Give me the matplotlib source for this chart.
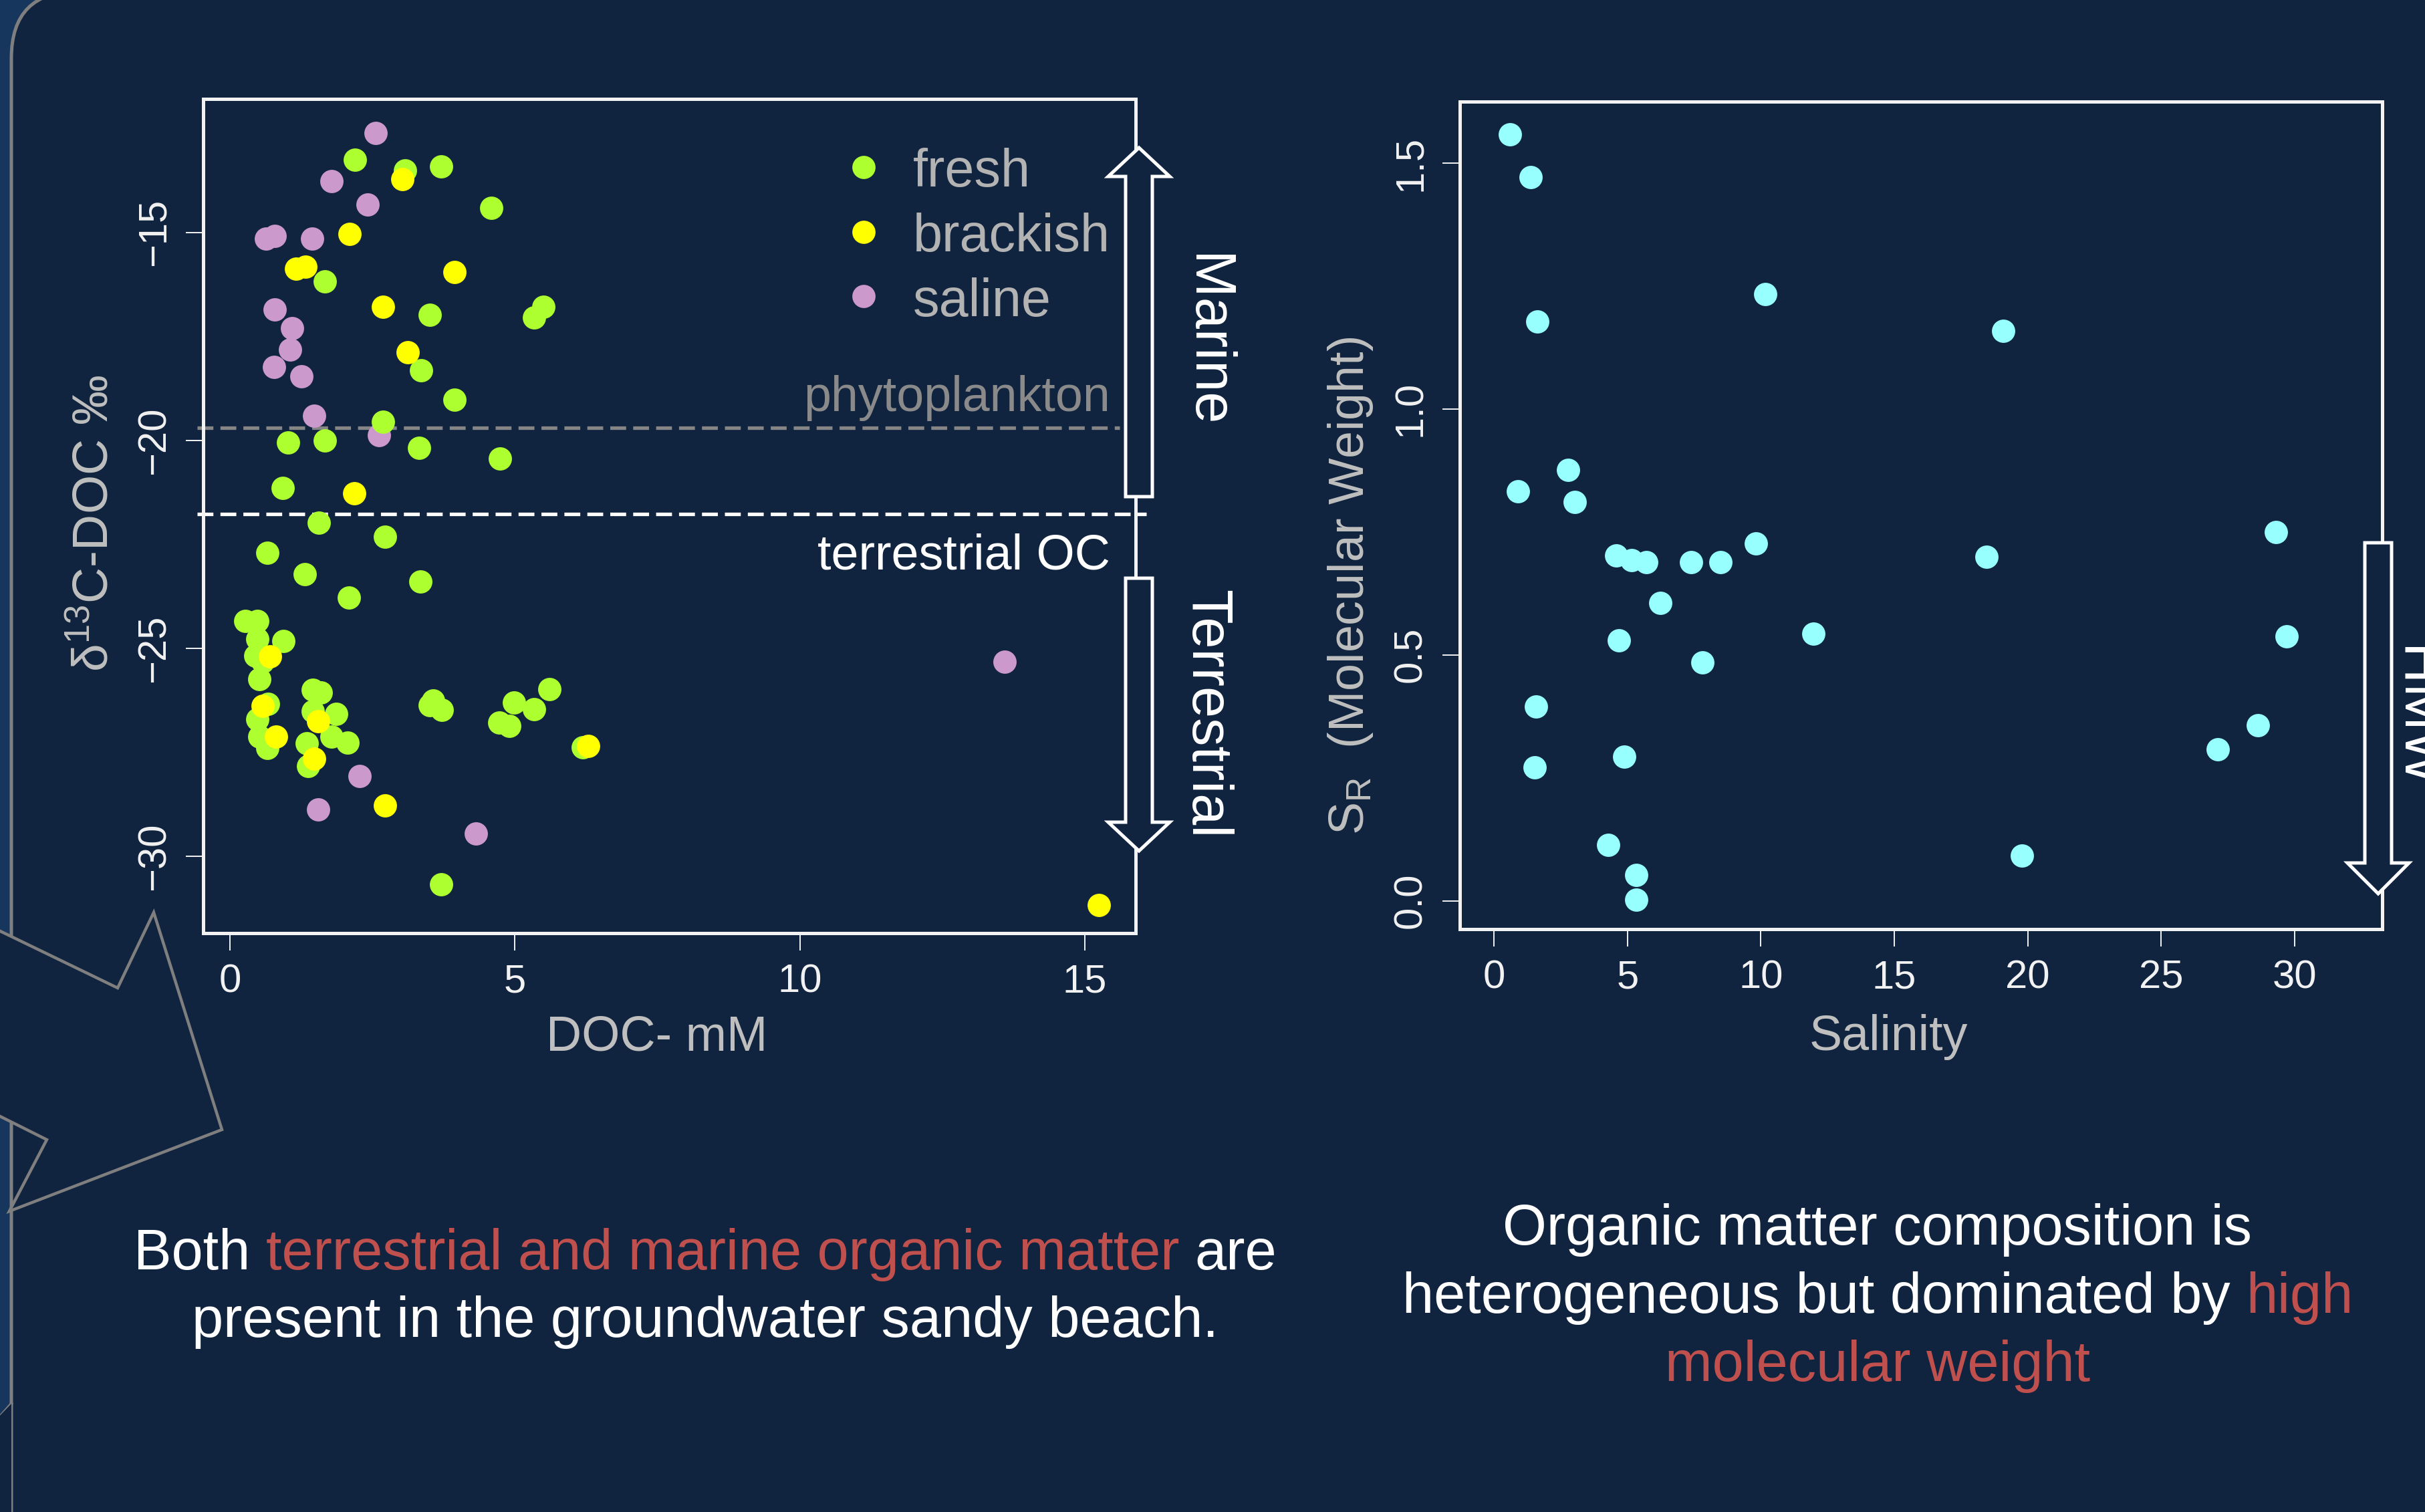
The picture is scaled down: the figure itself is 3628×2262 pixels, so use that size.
import matplotlib
matplotlib.use('Agg')
import matplotlib.pyplot as plt
import matplotlib.transforms as mtransforms
from matplotlib.patches import Polygon, FancyBboxPatch

plt.rcParams['font.family'] = ['Liberation Sans', 'DejaVu Sans']
plt.rcParams['mathtext.fontset'] = 'custom'
plt.rcParams['mathtext.rm'] = 'Liberation Sans'
plt.rcParams['mathtext.it'] = 'Liberation Sans:italic'
plt.rcParams['mathtext.bf'] = 'Liberation Sans:bold'

# ---- left panel: d13C-DOC vs DOC ----
fresh_doc = [2.19, 3.07, 3.70, 4.58, 1.67, 5.50, 5.34, 3.50, 3.35, 3.94, 2.68, 1.02, 1.67,
             3.32, 4.74, 0.93, 1.56, 2.72, 0.66, 1.31, 3.34, 2.09, 0.27, 0.48, 0.94, 0.48,
             0.44, 0.57, 0.51, 0.67, 0.48, 0.51, 0.65, 1.45, 1.59, 1.45, 1.86, 1.35, 1.78,
             2.06, 1.37, 3.50, 3.72, 3.57, 4.98, 5.34, 5.61, 4.72, 4.90, 6.19, 3.70]
fresh_d13c = [-13.26, -13.51, -13.41, -14.41, -16.18, -16.79, -17.05, -16.98, -18.31, -19.02,
              -19.56, -20.05, -20.00, -20.18, -20.44, -21.15, -21.98, -22.32, -22.71, -23.22,
              -23.40, -23.78, -24.34, -24.35, -24.83, -24.77, -25.18, -25.32, -25.74, -26.34,
              -26.71, -27.12, -27.40, -26.00, -26.06, -26.52, -26.57, -27.28, -27.12, -27.27,
              -27.83, -26.37, -26.48, -26.25, -26.31, -26.46, -25.99, -26.78, -26.86, -27.38,
              -30.67]
brackish_doc = [3.03, 2.10, 1.16, 1.32, 3.94, 2.68, 3.12, 2.18, 0.70, 0.57, 0.81, 1.55,
                1.48, 2.72, 6.29, 15.25]
brackish_d13c = [-13.72, -15.03, -15.87, -15.82, -15.95, -16.79, -17.88, -21.28, -25.20,
                 -26.38, -27.12, -26.75, -27.65, -28.78, -27.35, -31.18]
saline_doc = [2.56, 1.78, 2.41, 0.63, 0.78, 1.44, 0.78, 1.09, 1.06, 0.77, 1.25, 1.48, 2.61,
              13.59, 2.27, 1.55, 4.31]
saline_d13c = [-12.61, -13.77, -14.33, -15.15, -15.08, -15.15, -16.85, -17.31, -17.82,
               -18.23, -18.46, -19.41, -19.87, -25.32, -28.07, -28.87, -29.46]
phyto_d13c = -19.7
terr_d13c = -21.77
left_xticks = [0, 5, 10, 15]
left_yticks = [-30, -25, -20, -15]

# ---- right panel: SR vs salinity ----
salinity = [0.61, 1.38, 1.63, 10.17, 19.09, 2.78, 0.91, 3.03, 29.31, 4.57, 5.15, 5.70, 7.38,
            8.48, 9.81, 18.46, 6.23, 4.68, 11.96, 29.70, 7.82, 1.57, 1.52, 4.88, 28.62,
            27.11, 4.27, 5.34, 5.32, 19.78]
sr = [1.559, 1.472, 1.178, 1.234, 1.159, 0.876, 0.833, 0.811, 0.749, 0.702, 0.693, 0.689,
      0.689, 0.689, 0.727, 0.700, 0.605, 0.530, 0.543, 0.538, 0.484, 0.395, 0.271, 0.293,
      0.357, 0.308, 0.114, 0.053, 0.002, 0.092]
right_xticks = [0, 5, 10, 15, 20, 25, 30]
right_yticks = [0.0, 0.5, 1.0, 1.5]

W, H = 3628, 2262
BG = '#11243F'
OUTER = '#17365E'
EDGE = '#7F7F7F'
RED = '#C0504D'

fig = plt.figure(figsize=(W / 100, H / 100), dpi=100, facecolor=OUTER)
# pixel coordinates, y downwards
px = mtransforms.Affine2D().scale(1 / W, -1 / H).translate(0, 1) + fig.transFigure

# background decoration
fig.patches.append(FancyBboxPatch((17, -13), 3657, 2400, boxstyle='round,pad=0,rounding_size=100',
                                  fc=BG, ec=EDGE, lw=3.6, transform=px, zorder=-2))
fig.patches.append(Polygon([(-10, 1388), (176, 1478), (230, 1365), (332, 1690), (14, 1812),
                            (70, 1705), (-10, 1665)], closed=True, fc=BG, ec=EDGE, lw=3.2,
                           transform=px, zorder=-1))
fig.patches.append(Polygon([(-10, 2128), (17, 2100), (17, 2300), (-10, 2300)], closed=True,
                           fc=BG, ec='none', transform=px, zorder=-1))
fig.lines.append(plt.Line2D([-5, 17], [2125, 2100], color=EDGE, lw=3.2, transform=px, zorder=-1))

TICKC = '#F2F2F2'
LABC = '#BFBFBF'


def style(ax):
    ax.set_facecolor('none')
    for s in ax.spines.values():
        s.set_color(TICKC)
        s.set_linewidth(3.6)
    ax.tick_params(direction='out', length=19, width=1.4, colors=TICKC, labelsize=43, pad=14)
    ax.tick_params(axis='y', labelrotation=90)


ax1 = fig.add_axes([304 / W, 1 - 1396 / H, 1395 / W, 1248 / H])
style(ax1)
ax1.scatter(saline_doc, saline_d13c, s=630, c='#CC99CC', linewidths=0, zorder=3)
ax1.scatter(fresh_doc, fresh_d13c, s=630, c='#ADFF2F', linewidths=0, zorder=3)
ax1.scatter(brackish_doc, brackish_d13c, s=630, c='#FFFF00', linewidths=0, zorder=3)
ax1.plot([-0.57, 15.61], [phyto_d13c] * 2, color='#858585', lw=3.8, ls=(0, (4.5, 2.0)),
         clip_on=False, zorder=2)
ax1.plot([-0.57, 16.08], [terr_d13c] * 2, color='white', lw=3.8, ls=(0, (4.5, 2.0)),
         clip_on=False, zorder=2)
ax1.set_xlim(-0.47, 15.89)
ax1.set_ylim(-31.85, -11.79)
ax1.set_xticks(left_xticks)
ax1.set_yticks(left_yticks)
plt.setp(ax1.get_yticklabels(), va='center')
ax1.text(15.44, phyto_d13c + 0.40, 'phytoplankton', ha='right', va='baseline',
         color='#8A8A8A', fontsize=53)
ax1.text(15.44, -23.10, 'terrestrial OC', ha='right', va='baseline', color='white', fontsize=53)

# legend
leg_labels = ['fresh', 'brackish', 'saline']
leg_colors = ['#ADFF2F', '#FFFF00', '#CC99CC']
for i, (lab, col) in enumerate(zip(leg_labels, leg_colors)):
    ym = 0.9183 - i * 0.0775
    ax1.plot([0.7083], [ym], 'o', ms=25, mew=0, color=col, transform=ax1.transAxes)
    ax1.text(0.7613, ym - 0.0235, lab, transform=ax1.transAxes, ha='left', va='baseline',
             color='#B3B3B3', fontsize=57)

ax2 = fig.add_axes([2184 / W, 1 - 1390 / H, 1380 / W, 1238 / H])
style(ax2)
ax2.scatter(salinity, sr, s=630, c='#98FFFF', linewidths=0, zorder=3)
ax2.set_xlim(-1.28, 33.28)
ax2.set_ylim(-0.0577, 1.625)
ax2.set_xticks(right_xticks)
ax2.set_yticks(right_yticks)
ax2.set_yticklabels(['%.1f' % v for v in right_yticks])
plt.setp(ax2.get_yticklabels(), va='center')

# axis labels
fig.text(983 / W, 1 - 1571 / H, 'DOC- mM', ha='center', va='baseline', color=LABC, fontsize=53)
fig.text(2825 / W, 1 - 1571 / H, 'Salinity', ha='center', va='baseline', color=LABC, fontsize=53)
fig.text(161 / W, 1 - 783 / H, 'δ$^{13}$C-DOC ‰', ha='center', va='baseline', rotation=90,
         rotation_mode='anchor', color=LABC, fontsize=54)
fig.text(2040 / W, 1 - 876 / H, r'S$_\mathrm{R}$  (Molecular Weight)', ha='center',
         va='baseline', rotation=90, rotation_mode='anchor', color=LABC, fontsize=53)


# block arrows
def up_arrow(xc, tip, base, bottom, hw=46, sw=20):
    return [(xc, tip), (xc + hw, base), (xc + sw, base), (xc + sw, bottom), (xc - sw, bottom),
            (xc - sw, base), (xc - hw, base)]


def down_arrow(xc, tip, base, top, hw=46, sw=20):
    return [(xc, tip), (xc + hw, base), (xc + sw, base), (xc + sw, top), (xc - sw, top),
            (xc - sw, base), (xc - hw, base)]


for pts in [up_arrow(1704, 221, 264, 743), down_arrow(1704, 1273, 1230, 865),
            down_arrow(3558, 1337, 1291, 812)]:
    fig.patches.append(Polygon(pts, closed=True, fc=BG, ec='white', lw=3.6, joinstyle='miter',
                               transform=px, zorder=3))

fig.text(1804 / W, 1 - 510 / H, 'Marine', rotation=-90, ha='center', va='center', color='white',
         fontsize=61)
fig.text(1804 / W, 1 - 1068 / H, 'Terrestrial', rotation=-90, ha='center', va='center',
         color='white', fontsize=61)
fig.text(3614 / W, 1 - 1073 / H, 'HMW', rotation=-90, ha='center', va='center', color='white',
         fontsize=61)

# captions with coloured words
renderer = fig.canvas.get_renderer()


def text_width(s, size):
    t = fig.text(0, 0, '|' + s + '|', fontsize=size)
    w = t.get_window_extent(renderer).width
    t.remove()
    return w


def rich_line(parts, xc, yb, size=61):
    bar = text_width('', size)
    sp = text_width(' ', size) - bar
    ws = [text_width(s, size) - bar for s, c in parts]
    total = sum(ws) + sp * (len(parts) - 1)
    x = xc - total / 2
    for (s, c), w in zip(parts, ws):
        fig.text(x / W, 1 - yb / H, s, color=c, fontsize=size, ha='left', va='baseline')
        x += w + sp


rich_line([('Both', 'white'), ('terrestrial and marine organic matter', RED), ('are', 'white')],
          1055, 1899)
rich_line([('present in the groundwater sandy beach.', 'white')], 1055, 2000)
rich_line([('Organic matter composition is', 'white')], 2809, 1862)
rich_line([('heterogeneous but dominated by', 'white'), ('high', RED)], 2809, 1964)
rich_line([('molecular weight', RED)], 2809, 2066)

fig.savefig('out.png', dpi=100, facecolor=OUTER)
